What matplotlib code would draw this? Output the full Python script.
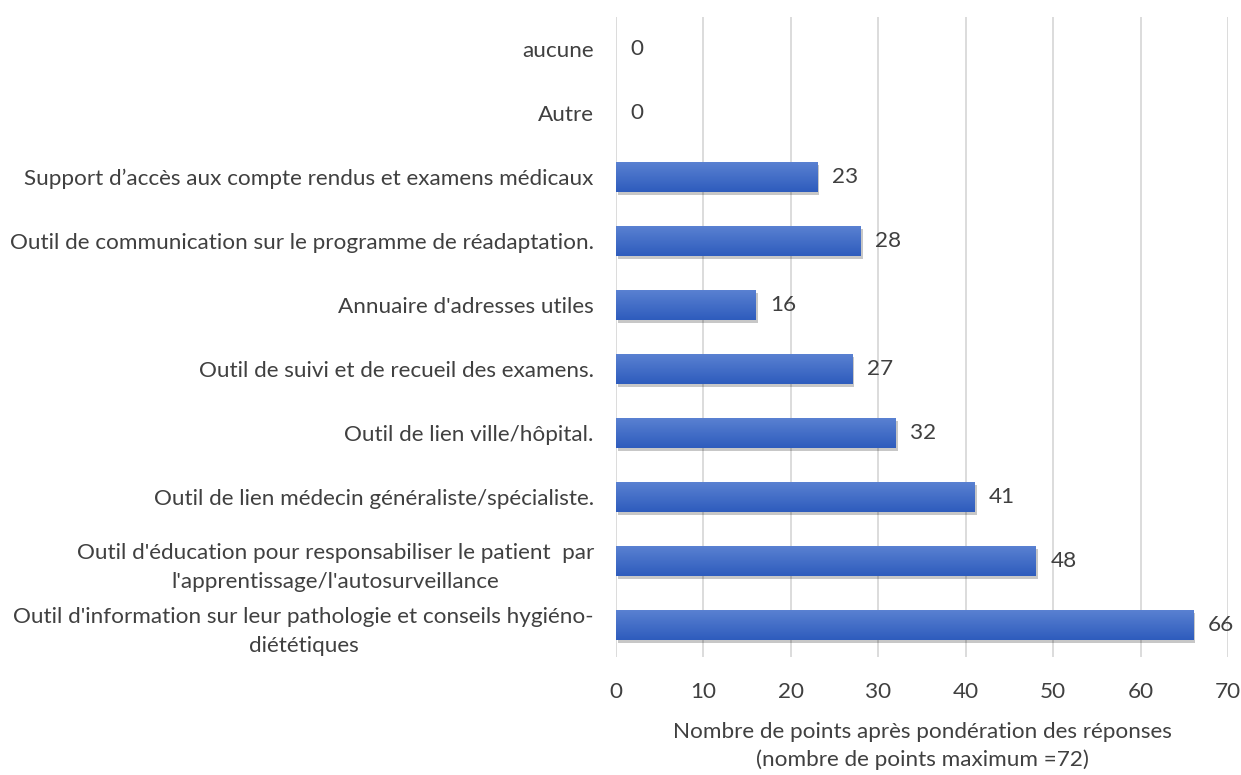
import numpy as np
import matplotlib
matplotlib.use("Agg")
import matplotlib.pyplot as plt
from matplotlib import patheffects as pe
from matplotlib.colors import LinearSegmentedColormap

plt.rcParams['font.family'] = ['Lato', 'DejaVu Sans']

categories = [
    "Outil d'information sur leur pathologie et conseils hygiéno-\ndiététiques",
    "Outil d'éducation pour responsabiliser le patient  par\nl'apprentissage/l'autosurveillance",
    "Outil de lien médecin généraliste/spécialiste.",
    "Outil de lien ville/hôpital.",
    "Outil de suivi et de recueil des examens.",
    "Annuaire d'adresses utiles",
    "Outil de communication sur le programme de réadaptation.",
    "Support d\u2019accès aux compte rendus et examens médicaux",
    "Autre",
    "aucune",
]
values = [66, 48, 41, 32, 27, 16, 28, 23, 0, 0]
xticks = [0, 10, 20, 30, 40, 50, 60, 70]
xlabel = "Nombre de points après pondération des réponses\n(nombre de points maximum =72)"

text_color = "#404040"
grid_color = "#d9d9d9"
fs = 16.2

fig = plt.figure(figsize=(12.41, 7.75), dpi=100)
ax = fig.add_axes([0.4964, 0.152, 0.4932, 0.826])

y = np.arange(len(categories))
bar_h = 0.47
grad = LinearSegmentedColormap.from_list("g", ["#5b82d2", "#2e5cbd"])
gimg = np.linspace(0, 1, 64).reshape(-1, 1)

bars = ax.barh(y, values, height=bar_h, color="#4472c4", zorder=2,
               path_effects=[pe.SimplePatchShadow(offset=(1.5, -2), shadow_rgbFace="#000000", alpha=0.22),
                             pe.Normal()])
for b, v in zip(bars, values):
    if v > 0:
        x0, y0 = b.get_x(), b.get_y()
        w, h = b.get_width(), b.get_height()
        im = ax.imshow(gimg, cmap=grad, aspect="auto", origin="upper",
                       extent=(x0, x0 + w, y0, y0 + h), zorder=3, interpolation="bilinear")
        im.set_clip_path(b)
    ax.annotate(f"{v}", (v, b.get_y() + b.get_height() / 2), xytext=(10.5, 0),
                textcoords="offset points", va="center", ha="left",
                fontsize=fs, color=text_color)

ax.set_xlim(0, 70)
ax.set_ylim(-0.5, len(categories) - 0.5)
ax.set_xticks(xticks)
ax.set_yticks(y)
ax.set_yticklabels(categories, fontsize=fs, color=text_color, ha="right",
                   multialignment="center", linespacing=1.55)
ax.tick_params(axis="x", labelsize=fs, colors=text_color, length=0, pad=18)
ax.tick_params(axis="y", length=0, pad=16)
ax.xaxis.grid(True, color=grid_color, linewidth=1.3, zorder=0)
ax.set_axisbelow(True)
for s in ax.spines.values():
    s.set_visible(False)
ax.set_xlabel(xlabel, fontsize=fs, color=text_color, labelpad=14, linespacing=1.45)

fig.savefig("out.png", dpi=100)
